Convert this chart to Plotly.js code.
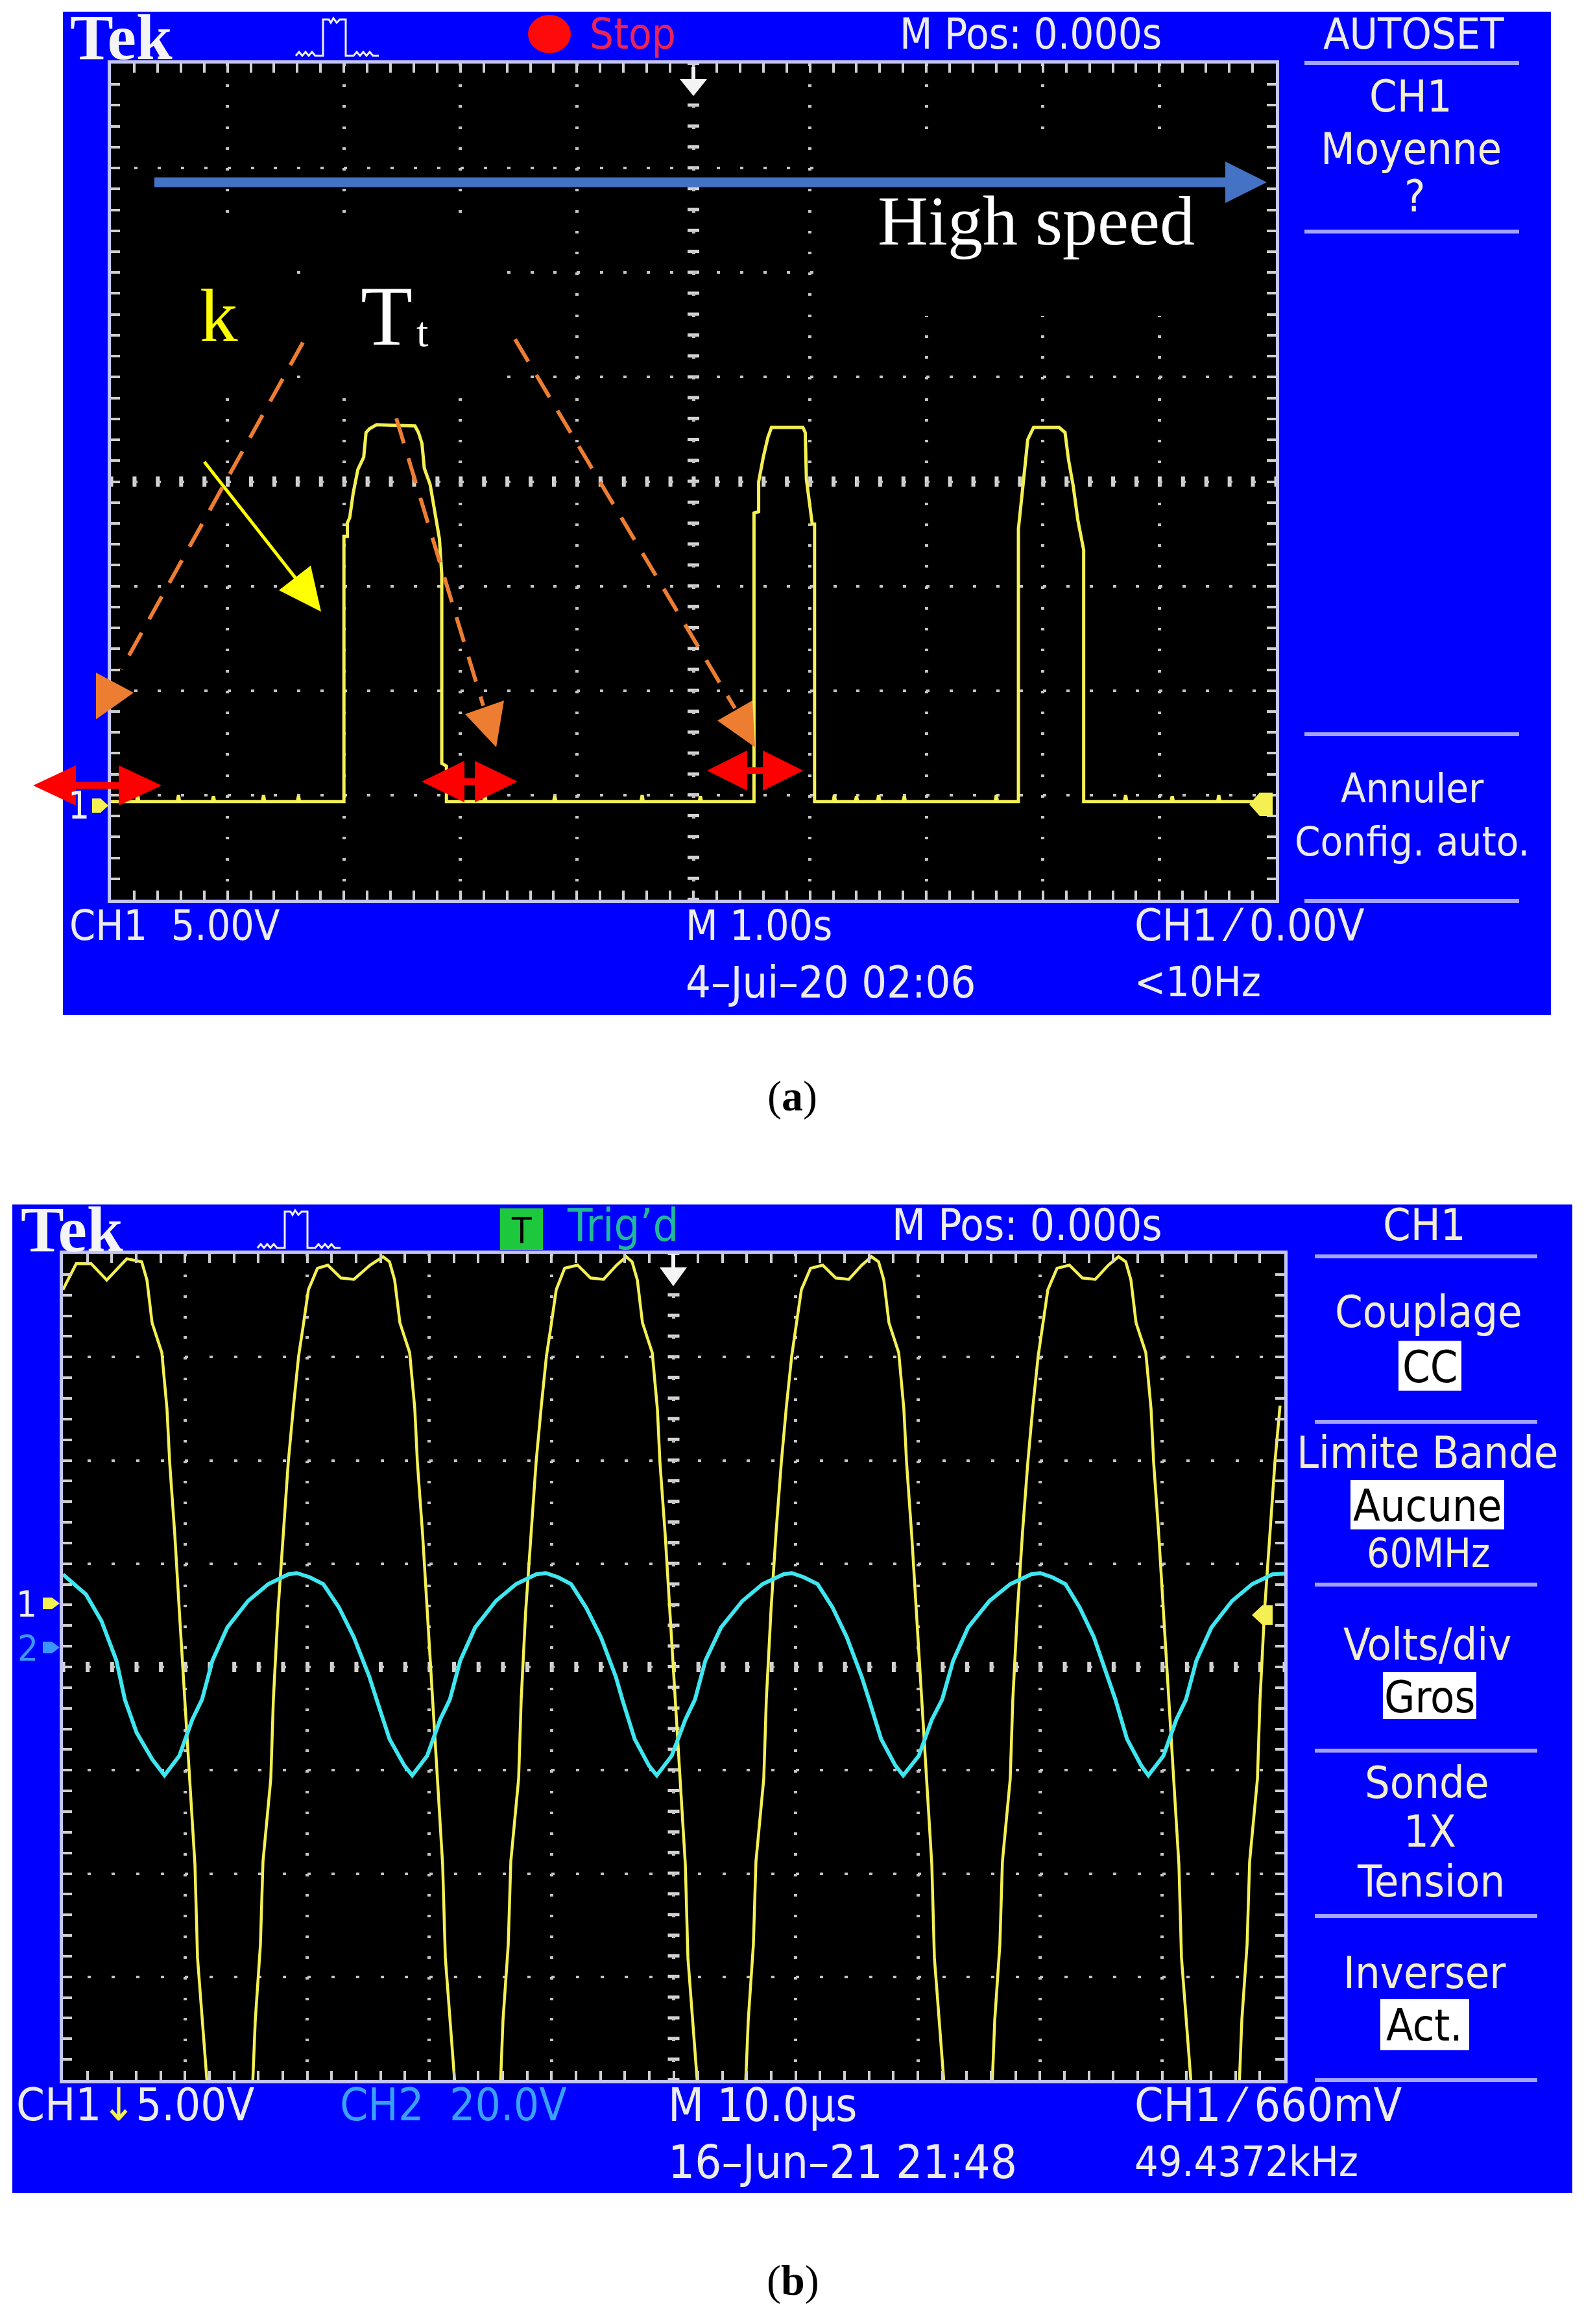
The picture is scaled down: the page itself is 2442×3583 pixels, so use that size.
<!DOCTYPE html>
<html><head><meta charset="utf-8">
<script src="https://cdn.plot.ly/plotly-3.0.1.min.js"></script>
<style>html,body{margin:0;padding:0;background:#fff;overflow:hidden}#c{width:2442px;height:3583px}</style>
</head><body><div id="c"></div><script>
// ---------- DATA ----------
// Panel (a): CH1, time in s (1.00 s/div), voltage in V (5.00 V/div)
const timeA = [-5.00,-4.78,-4.77,-4.76,-4.43,-4.42,-4.41,-4.13,-4.12,-4.11,-3.70,-3.69,-3.68,-3.40,-3.39,-3.38,
 -3.00,-3.00,-2.97,-2.97,-2.95,-2.92,-2.88,-2.83,-2.81,-2.78,-2.72,-2.39,-2.36,-2.33,-2.31,-2.26,-2.22,-2.18,-2.16,-2.16,-2.12,-2.12,
 -1.80,-1.79,-1.78,-1.20,-1.19,-1.18,-0.45,-0.44,-0.43,0.05,0.06,0.07,
 0.52,0.52,0.56,0.56,0.60,0.64,0.67,0.94,0.96,0.97,1.02,1.04,1.04,
 1.20,1.21,1.22,1.39,1.40,1.41,1.58,1.59,1.60,1.80,1.81,1.82,2.59,2.60,2.61,
 2.79,2.79,2.83,2.87,2.92,3.14,3.19,3.22,3.26,3.30,3.35,3.35,
 3.70,3.71,3.72,4.10,4.11,4.12,4.50,4.51,4.52,4.95];
const voltA = [0.24,0.24,0.55,0.24,0.24,0.55,0.24,0.24,0.50,0.24,0.24,0.55,0.24,0.24,0.50,0.24,
 0.24,12.93,12.93,13.58,13.83,15.01,16.13,16.72,17.90,18.08,18.27,18.21,17.90,17.37,16.19,15.41,14.11,12.81,11.10,2.07,1.94,0.24,
 0.24,0.55,0.24,0.24,0.50,0.24,0.24,0.55,0.24,0.24,0.50,0.24,
 0.24,14.05,14.11,15.54,16.72,17.68,18.14,18.14,17.90,15.66,13.52,13.52,0.24,
 0.24,0.55,0.24,0.24,0.50,0.24,0.24,0.55,0.24,0.24,0.50,0.24,0.24,0.55,0.24,
 0.24,13.30,15.41,17.56,18.14,18.14,17.90,16.59,15.35,13.71,12.28,0.24,
 0.24,0.55,0.24,0.24,0.50,0.24,0.24,0.55,0.24,0.24];

// Panel (b): time in µs (10.0 µs/div); CH1 in V (5.00 V/div), CH2 in V (20.0 V/div)
const timeB1 = [-50.00,-48.91,-47.69,-46.41,-44.77,-43.55,-43.12,-42.70,-41.90,-41.48,-41.26,-40.84,-40.47,-40.04,-39.62,-39.19,-38.98,-38.61,-38.18,null,
 -34.47,-34.25,-33.83,-33.62,-32.98,-32.77,-32.39,-31.97,-31.55,-31.12,-30.70,-30.33,-29.90,-29.16,-28.31,-27.24,-26.18,-24.85,-23.79,-23.26,-22.84,-22.41,-21.61,-21.19,-20.98,-20.55,-20.18,-19.76,-19.33,-18.91,-18.69,-18.32,-17.90,null,
 -14.18,-13.97,-13.54,-13.33,-12.69,-12.48,-12.11,-11.68,-11.26,-10.83,-10.41,-10.04,-9.61,-8.92,-7.86,-6.80,-5.74,-4.67,-3.88,-3.40,-2.97,-2.55,-1.75,-1.33,-1.12,-0.69,-0.32,0.11,0.53,0.96,1.17,1.54,1.96,null,
 5.89,6.11,6.53,6.74,7.38,7.59,7.97,8.39,8.82,9.24,9.67,10.04,10.46,11.21,12.21,13.28,14.34,15.40,16.20,16.78,17.21,17.63,18.43,18.85,19.07,19.49,19.86,20.29,20.71,21.14,21.35,21.72,22.15,null,
 26.08,26.29,26.71,26.92,27.56,27.77,28.15,28.57,29.00,29.42,29.85,30.22,30.64,31.39,32.40,33.46,34.52,35.59,36.43,37.02,37.44,37.86,38.66,39.09,39.30,39.72,40.10,40.52,40.95,41.37,41.58,41.95,42.38,null,
 46.31,46.52,46.95,47.16,47.80,48.01,48.38,48.81,49.23,49.65];
const voltB1 = [15.22,16.48,16.48,15.69,16.72,16.57,15.69,13.62,12.17,9.45,6.87,3.36,-0.32,-4.62,-8.79,-12.62,-17.11,-20.15,-23.3,null,
 -23.3,-20.15,-16.48,-12.46,-8.45,-4.62,-0.32,3.51,6.87,9.61,12.02,13.46,15.22,16.26,16.41,15.79,15.72,16.41,16.82,16.57,15.69,13.62,12.17,9.45,6.87,3.36,-0.32,-4.62,-8.79,-12.62,-17.11,-20.15,-23.3,null,
 -23.3,-20.15,-16.48,-12.46,-8.45,-4.62,-0.32,3.51,6.87,9.61,12.02,13.46,15.22,16.26,16.41,15.79,15.72,16.41,16.82,16.57,15.69,13.62,12.17,9.45,6.87,3.36,-0.32,-4.62,-8.79,-12.62,-17.11,-20.15,-23.3,null,
 -23.3,-20.15,-16.48,-12.46,-8.45,-4.62,-0.32,3.51,6.87,9.61,12.02,13.46,15.22,16.26,16.41,15.79,15.72,16.41,16.82,16.57,15.69,13.62,12.17,9.45,6.87,3.36,-0.32,-4.62,-8.79,-12.62,-17.11,-20.15,-23.3,null,
 -23.3,-20.15,-16.48,-12.46,-8.45,-4.62,-0.32,3.51,6.87,9.61,12.02,13.46,15.22,16.26,16.41,15.79,15.72,16.41,16.82,16.57,15.69,13.62,12.17,9.45,6.87,3.36,-0.32,-4.62,-8.79,-12.62,-17.11,-20.15,-23.3,null,
 -23.3,-20.15,-16.48,-12.46,-8.45,-4.62,-0.32,3.51,6.87,9.61];
const timeB2 = [-50.00,-48.11,-46.84,-45.62,-44.93,-43.97,-42.70,-41.69,
 -40.47,-39.41,-38.61,-37.76,-36.54,-34.84,-33.19,-31.55,-30.85,
 -29.79,-28.68,-27.40,-26.18,-24.91,-24.32,-23.26,-22.04,-21.40,
 -20.18,-19.12,-18.32,-17.47,-16.25,-14.55,-12.90,-11.26,-10.46,
 -9.45,-8.39,-7.17,-5.95,-4.73,-4.20,-3.19,-2.02,-1.38,
 -0.16,0.96,1.75,2.60,3.88,5.63,7.28,8.98,9.67,
 10.67,11.79,13.01,14.18,15.40,15.99,16.99,18.16,18.80,
 20.07,21.14,21.99,22.89,24.11,25.86,27.56,29.26,30.01,
 31.01,32.08,33.24,34.41,35.58,36.17,37.12,38.29,38.87,
 40.10,41.16,41.95,42.80,44.03,45.72,47.37,49.02,50.00];
const voltB2 = [14.07,10.18,5.03,-2.63,-10.16,-16.56,-21.71,-24.85,
 -21.08,-14.05,-10.16,-2.63,3.78,8.92,12.18,14.07,14.32,
 13.5,12.18,7.66,1.89,-5.77,-10.16,-17.82,-22.97,-24.85,
 -21.08,-14.05,-10.16,-2.63,3.78,8.92,12.18,14.07,14.32,
 13.5,12.18,7.66,1.89,-5.77,-10.16,-17.82,-22.97,-24.85,
 -21.08,-14.05,-10.16,-2.63,3.78,8.92,12.18,14.07,14.32,
 13.5,12.18,7.66,1.89,-5.77,-10.16,-17.82,-22.97,-24.85,
 -21.08,-14.05,-10.16,-2.63,3.78,8.92,12.18,14.07,14.32,
 13.5,12.18,7.66,1.89,-5.77,-10.16,-17.82,-22.97,-24.85,
 -21.08,-14.05,-10.16,-2.63,3.78,8.92,12.18,14.07,14.2];

// ---------- LAYOUT HELPERS ----------
const W = 2442, H = 3583;
const X = v => v / W, Y = v => 1 - v / H;
const TEK = '"Liberation Sans Narrow","DejaVu Sans Condensed","Arial Narrow",sans-serif';
const SERIF = '"Liberation Serif","Times New Roman",serif';
const WHITE = '#ececec', MENU = '#f2eed0', BLUE = '#0000fe', SEP = '#a4a4ff';

function rect(x0,y0,x1,y1,fill,layer){return {type:'rect',xref:'paper',yref:'paper',x0:X(x0),x1:X(x1),y0:Y(y1),y1:Y(y0),fillcolor:fill,line:{width:0},layer:layer||'below'};}
function seg(x0,y0,x1,y1,color,width,dash,layer){return {type:'line',xref:'paper',yref:'paper',x0:X(x0),y0:Y(y0),x1:X(x1),y1:Y(y1),line:{color:color,width:width,dash:dash||'solid'},layer:layer||'above'};}
function poly(pts,fill,layer){return {type:'path',xref:'paper',yref:'paper',path:'M'+pts.map(p=>X(p[0]).toFixed(6)+','+Y(p[1]).toFixed(6)).join('L')+'Z',fillcolor:fill,line:{width:0},layer:layer||'above'};}
function pline(pts,color,width,layer){return {type:'path',xref:'paper',yref:'paper',path:'M'+pts.map(p=>X(p[0]).toFixed(6)+','+Y(p[1]).toFixed(6)).join('L'),fillcolor:'rgba(0,0,0,0)',line:{color:color,width:width},layer:layer||'below'};}
function dbl(xL,xR,yc,h,H2,s,color){return poly([[xL,yc],[xL+h,yc-H2],[xL+h,yc-s],[xR-h,yc-s],[xR-h,yc-H2],[xR,yc],[xR-h,yc+H2],[xR-h,yc+s],[xL+h,yc+s],[xL+h,yc+H2]],color,'above');}
function txt(text,x,y,size,color,opt){opt=opt||{};return {xref:'paper',yref:'paper',x:X(x),y:Y(y),text:text,showarrow:false,xanchor:opt.anchor||'center',yanchor:'middle',align:'center',font:{family:opt.family||TEK,size:size,color:color}};}

function scopeAxis(range,tick0,dtick,minorD,domain,dash,gw,extra){
  return Object.assign({range:range,autorange:false,domain:domain,tickmode:'linear',tick0:tick0,dtick:dtick,
    showgrid:true,gridcolor:'#c4c4c4',gridwidth:gw,griddash:dash,zeroline:false,showticklabels:false,
    ticks:'inside',ticklen:14,tickwidth:4,tickcolor:'#cfcfcf',
    minor:{tick0:tick0,dtick:minorD,ticks:'inside',ticklen:14,tickwidth:4,tickcolor:'#cfcfcf',showgrid:false},
    showline:true,linecolor:'#c6c6f2',linewidth:5,mirror:'allticks',fixedrange:true},extra||{});
}

// plot-area pixel boxes
const A = {l:171,r:1967,t:98,b:1387};
const B = {l:97,r:1980,t:1933,b:3207};
const aMinX=(A.r-A.l)/50, aMinY=(A.b-A.t)/40, bMinX=(B.r-B.l)/50, bMinY=(B.b-B.t)/40;

const traces = [
  {x:timeA,y:voltA,type:'scatter',mode:'lines',xaxis:'x',yaxis:'y',line:{color:'#f4f052',width:5},hoverinfo:'skip'},
  {x:timeB2,y:voltB2,type:'scatter',mode:'lines',xaxis:'x2',yaxis:'y3',line:{color:'#3ee6f0',width:6},hoverinfo:'skip'},
  {x:timeB1,y:voltB1,type:'scatter',mode:'lines',xaxis:'x2',yaxis:'y2',line:{color:'#f4f052',width:4.5},hoverinfo:'skip',connectgaps:false}
];

const pulseIcon = (dx,dy)=>[[456,86],[461,80],[466,86],[471,80],[476,86],[481,80],[486,86],[498,86],[498,30],[507,30],[510,35],[514,28],[519,35],[524,30],[533,30],[533,86],[545,86],[550,80],[555,86],[560,80],[565,86],[570,80],[575,86],[584,86]].map(p=>[p[0]+dx,p[1]+dy]);

const shapes = [
  // frames and screens
  rect(97,18,2391,1565,BLUE), rect(A.l,A.t,A.r,A.b,'#000'),
  rect(19,1857,2424,3381,BLUE), rect(B.l,B.t,B.r,B.b,'#000'),
  // centre tick lines
  seg(A.l-2.5,(A.t+A.b)/2,A.r,(A.t+A.b)/2,'#d4d4d4',16,'6px,'+(aMinX-6)+'px','below'),
  seg((A.l+A.r)/2,A.b+2,(A.l+A.r)/2,A.t,'#d4d4d4',18,'5px,'+(aMinY-5)+'px','below'),
  seg(B.l-2.5,(B.t+B.b)/2,B.r,(B.t+B.b)/2,'#d4d4d4',16,'6px,'+(bMinX-6)+'px','below'),
  seg((B.l+B.r)/2,B.b+2,(B.l+B.r)/2,B.t,'#d4d4d4',18,'5px,'+(bMinY-5)+'px','below'),
  // menu separators
  ...[97,357,1132,1389].map(y=>seg(2011,y,2342,y,SEP,6,null,'below')),
  ...[1937,2192,2443,2699,2954,3207].map(y=>seg(2027,y,2370,y,SEP,6,null,'below')),
  // header icons
  pline(pulseIcon(0,0),'#f0f0f0',3), pline(pulseIcon(-59,1838),'#f0f0f0',3),
  {type:'circle',xref:'paper',yref:'paper',x0:X(814),x1:X(880),y0:Y(82),y1:Y(23),fillcolor:'#ff0a0a',line:{width:0},layer:'below'},
  rect(771,1863,837,1927,'#1ec83c'),
  // white option boxes
  rect(2156,2067,2253,2144,'#fff'), rect(2082,2282,2319,2358,'#fff'), rect(2132,2578,2276,2650,'#fff'), rect(2128,3082,2265,3161,'#fff'),
  // ground markers
  poly([[142,1231],[155,1231],[167,1242],[155,1253],[142,1253]],'#f4f052','below'),
  poly([[66,2463],[80,2463],[92,2472],[80,2481],[66,2481]],'#f4f052','below'),
  poly([[66,2531],[80,2531],[92,2540],[80,2549],[66,2549]],'#3c96ff','below'),
  // black boxes behind annotation texts (a)
  rect(186,338,452,610,'#000','above'), rect(466,338,772,610,'#000','above'), rect(1256,222,1948,487,'#000','above'),
  // trigger markers
  poly([[1066,103],[1072,103],[1072,122],[1090,122],[1069,148],[1048,122],[1066,122]],'#f4f4f4'),
  poly([[1035,1933],[1041,1933],[1041,1954],[1059,1954],[1038,1983],[1017,1954],[1035,1954]],'#f4f4f4'),
  poly([[1962,1222],[1962,1258],[1942,1258],[1926,1240],[1942,1222]],'#f4f052'),
  poly([[1962,2475],[1962,2505],[1946,2505],[1930,2490],[1946,2475]],'#f4f052'),
  // blue "high speed" arrow
  seg(238,281,1892,281,'#4472c4',15),
  poly([[1889,249],[1953,281],[1889,313]],'#4472c4'),
  // yellow arrow (k)
  seg(315,712,457,893,'#ffff00',5),
  poly([[430,910],[479,872],[495,943]],'#ffff00'),
  // orange dashed arrows (Tt)
  seg(467,528,187,1032,'#ed7d31',6,'40px,24px'),
  poly([[148,1037],[206,1068],[148,1109]],'#ed7d31'),
  seg(611,645,745,1088,'#ed7d31',6,'40px,24px'),
  poly([[717,1101],[777,1080],[765,1152]],'#ed7d31'),
  seg(794,523,1133,1092,'#ed7d31',6,'40px,24px'),
  poly([[1106,1111],[1160,1080],[1164,1152]],'#ed7d31'),
  // red double arrows
  dbl(51,249,1211,66,31,5,'#ff0000'),
  dbl(650,798,1205,66,32,5,'#ff0000'),
  dbl(1090,1238,1188,62,31,5,'#ff0000')
];

const annotations = [
  // panel (a) header
  txt('<b>Tek</b>',187,57,100,'#f4f4f4',{family:SERIF}),
  txt('Stop',907,52,65,'#e8245a',{anchor:'left'}),
  txt('M Pos: 0.000s',1385,52,65,WHITE,{anchor:'left'}),
  txt('AUTOSET',2179,52,66,WHITE),
  txt('CH1',2175,149,68,MENU), txt('Moyenne',2175,229,68,MENU), txt('?',2181,303,68,MENU),
  txt('Annuler<br>Config. auto.',2177,1256,63,WHITE),
  txt('CH1\u00a0\u00a05.00V',105,1427,64,WHITE,{anchor:'left'}),
  txt('M 1.00s',1055,1427,64,WHITE,{anchor:'left'}),
  txt('CH1 \u2044 0.00V',1747,1427,68,WHITE,{anchor:'left'}),
  txt('4\u2013Jui\u201320 02:06',1055,1514,68,WHITE,{anchor:'left'}),
  txt('&lt;10Hz',1747,1514,64,WHITE,{anchor:'left'}),
  txt('1',121,1242,58,'#f0f0f0'),
  // panel (a) annotations
  txt('High speed',1597,341,108,'#ffffff',{family:SERIF}),
  txt('k',337,486,117,'#ffff00',{family:SERIF}),
  txt('T',596,488,131,'#ffffff',{family:SERIF}),
  txt('t',651,511,66,'#ffffff',{family:SERIF}),
  txt('(<b>a</b>)',1221,1690,66,'#000',{family:SERIF}),
  // panel (b) header
  txt('<b>Tek</b>',111,1895,100,'#f4f4f4',{family:SERIF}),
  txt('T',804,1896,56,'#000'),
  txt('Trig\u2019d',872,1889,70,'#22b89a',{anchor:'left'}),
  txt('M Pos: 0.000s',1373,1889,67,WHITE,{anchor:'left'}),
  txt('CH1',2196,1889,68,MENU),
  txt('Couplage',2202,2022,68,MENU), txt('CC',2204,2107,68,'#000'),
  txt('Limite Bande',2200,2239,68,MENU), txt('Aucune',2200,2321,68,'#000'), txt('60MHz',2202,2394,62,MENU),
  txt('Volts/div',2200,2535,68,MENU), txt('Gros',2204,2616,68,'#000'),
  txt('Sonde',2200,2748,68,MENU), txt('1X',2204,2823,68,MENU), txt('Tension',2206,2900,68,MENU),
  txt('Inverser',2196,3041,68,MENU), txt('Act.',2196,3122,68,'#000'),
  txt('CH1<span style="color:#f4f052">\u2193</span>5.00V',23,3245,70,WHITE,{anchor:'left'}),
  txt('CH2\u00a0\u00a020.0V',522,3245,69,'#3aa0ff',{anchor:'left'}),
  txt('M 10.0\u00b5s',1028,3245,71,WHITE,{anchor:'left'}),
  txt('16\u2013Jun\u201321 21:48',1028,3333,72,WHITE,{anchor:'left'}),
  txt('CH1 \u2044 660mV',1747,3245,71,WHITE,{anchor:'left'}),
  txt('49.4372kHz',1747,3333,64,WHITE,{anchor:'left'}),
  txt('1',41,2472,56,'#f0f0f0'), txt('2',43,2540,56,'#3c96ff'),
  txt('(<b>b</b>)',1222,3516,66,'#000',{family:SERIF})
];

const layout = {
  width:W,height:H,autosize:false,margin:{l:0,r:0,t:0,b:0,pad:0},
  paper_bgcolor:'#ffffff',plot_bgcolor:'#000000',showlegend:false,
  xaxis: scopeAxis([-5,5],-5,1,0.2,[X(A.l),X(A.r)],'4px,'+(aMinY-4)+'px',5,{anchor:'y'}),
  yaxis: scopeAxis([-4.45,35.55],-4.45,5,1,[Y(A.b),Y(A.t)],'5px,'+(aMinX-5)+'px',4,{anchor:'x'}),
  xaxis2: scopeAxis([-50,50],-50,10,2,[X(B.l),X(B.r)],'4px,'+(bMinY-4)+'px',5,{anchor:'y2'}),
  yaxis2: scopeAxis([-23.04,16.96],-23.04,5,1,[Y(B.b),Y(B.t)],'5px,'+(bMinX-5)+'px',4,{anchor:'x2'}),
  yaxis3: {range:[-83.86,76.14],autorange:false,overlaying:'y2',anchor:'x2',visible:false,fixedrange:true},
  shapes:shapes, annotations:annotations
};
Plotly.newPlot('c',traces,layout,{displayModeBar:false,staticPlot:true});
</script></body></html>
